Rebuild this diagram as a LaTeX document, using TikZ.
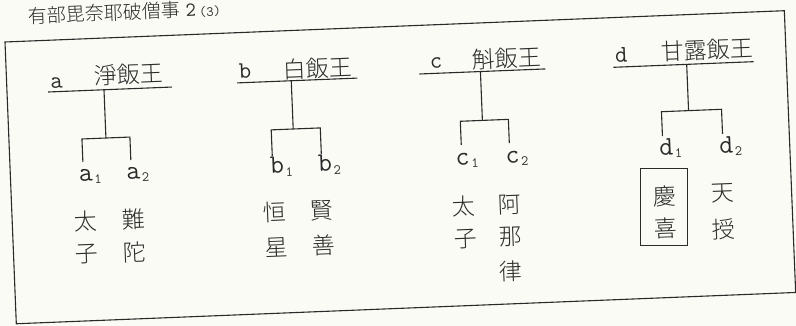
\documentclass[tikz,border=0pt]{standalone}
\usepackage{fontspec}
\usetikzlibrary{fit}
\IfFontExistsTF{Noto Sans CJK JP Light}
  {\newfontfamily\cjk{Noto Sans CJK JP Light}}
  {\newfontfamily\cjk{Noto Sans CJK JP}}
\newfontfamily\mono{Latin Modern Mono}
\definecolor{ink}{HTML}{2A2A2A}
\definecolor{paper}{HTML}{FBFBF5}
\newcommand\kidlab[2]{#1\hspace{1.5pt}\raisebox{-3pt}{\fontsize{14}{14}\selectfont #2}}
\begin{document}
\begin{tikzpicture}[x=1pt,y=1pt,
  line/.style={draw=ink, line width=1.1pt},
  kanji/.style={inner sep=0pt, text=ink, font=\cjk\fontsize{23}{23}\selectfont},
  ltr/.style={inner sep=0pt, text=ink, anchor=base, font=\mono\fontsize{24}{24}\selectfont},
  kid/.style={inner sep=0pt, text=ink, anchor=base west, font=\mono\fontsize{27}{27}\selectfont},
]
\fill[paper] (0,0) rectangle (796,-326);
\useasboundingbox (0,0) rectangle (796,-326);
\clip (0,0) rectangle (796,-326);
\begin{scope}[shift={(5,-42)}, rotate=2.3, transform shape]
  % heading
  \node[inner sep=0pt, text=ink, anchor=west, font=\cjk\fontsize{19}{19}\selectfont] (head) at (24.5,25)
    {有部毘奈耶破僧事\hspace{5pt}{\mono\fontsize{20}{20}\selectfont 2\,}{\mono\fontsize{14}{14}\selectfont (3)}};
  % frame
  \draw[line] (0,0) rectangle (780,-282);

  % ---------- tree a ----------
  \node[ltr] (aL) at (50,-48) {a};
  \node[kanji] (aT) at (122.7,-37.5) {淨飯王};
  \coordinate (aLl) at (41,-51.7); \coordinate (aLr) at (165,-51.7);
  \coordinate (aS) at (97,-51.7);  \coordinate (aB) at (97,-100);
  \coordinate (aB1) at (73,-100);  \coordinate (aB2) at (121,-100);
  \coordinate (aE1) at (73,-123);  \coordinate (aE2) at (121,-123);
  \draw[line] (aLl) -- (aLr);
  \draw[line] (aS) -- (aB);
  \draw[line] (aE1) -- (aB1) -- (aB2) -- (aE2);
  \node[kid] (a1) at (68.4,-142) {\kidlab{a}{1}};
  \node[kid] (a2) at (115.9,-142) {\kidlab{a}{2}};
  \node[kanji] (a11) at (73,-182) {太};
  \node[kanji] (a12) at (73,-215) {子};
  \node[kanji] (a21) at (121,-182) {難};
  \node[kanji] (a22) at (121,-215) {陀};

  % ---------- tree b ----------
  \node[ltr] (bL) at (238.6,-45.6) {b};
  \node[kanji] (bT) at (311.4,-39) {白飯王};
  \coordinate (bLl) at (230.4,-50.2); \coordinate (bLr) at (350.6,-50.2);
  \coordinate (bS) at (284.5,-50.2);  \coordinate (bB) at (284.5,-98.5);
  \coordinate (bB1) at (262.5,-98.5); \coordinate (bB2) at (311.6,-98.5);
  \coordinate (bE1) at (262.5,-124.5); \coordinate (bE2) at (311.6,-124.5);
  \draw[line] (bLl) -- (bLr);
  \draw[line] (bS) -- (bB);
  \draw[line] (bE1) -- (bB1) -- (bB2) -- (bE2);
  \node[kid] (b1) at (259.6,-142.3) {\kidlab{b}{1}};
  \node[kid] (b2) at (307.7,-142.3) {\kidlab{b}{2}};
  \node[kanji] (b11) at (263,-181) {恒};
  \node[kanji] (b12) at (263,-216) {星};
  \node[kanji] (b21) at (310,-181) {賢};
  \node[kanji] (b22) at (310,-216) {善};

  % ---------- tree c ----------
  \node[ltr] (cL) at (430,-43.3) {c};
  \node[kanji] (cT) at (500.4,-36.1) {斛飯王};
  \coordinate (cLl) at (412.7,-48.6); \coordinate (cLr) at (538.9,-48.6);
  \coordinate (cS) at (473.9,-48.6);  \coordinate (cB) at (473.9,-97.5);
  \coordinate (cB1) at (451.8,-97.5); \coordinate (cB2) at (499.9,-97.5);
  \coordinate (cE1) at (451.8,-121.2); \coordinate (cE2) at (499.9,-121.2);
  \draw[line] (cLl) -- (cLr);
  \draw[line] (cS) -- (cB);
  \draw[line] (cE1) -- (cB1) -- (cB2) -- (cE2);
  \node[kid] (c1) at (445.5,-141.3) {\kidlab{c}{1}};
  \node[kid] (c2) at (495.5,-141.3) {\kidlab{c}{2}};
  \node[kanji] (c11) at (452,-183) {太};
  \node[kanji] (c12) at (452,-215) {子};
  \node[kanji] (c21) at (497.5,-183) {阿};
  \node[kanji] (c22) at (497.5,-215) {那};
  \node[kanji] (c23) at (496,-249) {律};

  % ---------- tree d ----------
  \node[ltr] (dL) at (615.2,-44.7) {d};
  \node[kanji] (dT) at (701.7,-36.2) {甘露飯王};
  \coordinate (dLl) at (607,-49.7);   \coordinate (dLr) at (747.2,-49.7);
  \coordinate (dS) at (680.3,-49.7);  \coordinate (dB) at (680.3,-96);
  \coordinate (dB1) at (653.2,-96);   \coordinate (dB2) at (713.3,-96);
  \coordinate (dE1) at (653.2,-120.5); \coordinate (dE2) at (713.3,-120.5);
  \draw[line] (dLl) -- (dLr);
  \draw[line] (dS) -- (dB);
  \draw[line] (dE1) -- (dB1) -- (dB2) -- (dE2);
  \node[kid] (d1) at (649.4,-139.7) {\kidlab{d}{1}};
  \node[kid] (d2) at (709.4,-139.7) {\kidlab{d}{2}};
  \node[kanji] (d11) at (652.5,-181) {慶};
  \node[kanji] (d12) at (652.5,-213) {喜};
  \node[kanji] (d21) at (711.5,-180) {天};
  \node[kanji] (d22) at (711,-216) {授};
  \coordinate (dboxA) at (630,-152); \coordinate (dboxB) at (674,-230.5);
  \node[draw=ink, line width=1.1pt, fit=(dboxA) (dboxB), inner sep=0pt] (dbox) {};
\end{scope}
\end{tikzpicture}
\end{document}
